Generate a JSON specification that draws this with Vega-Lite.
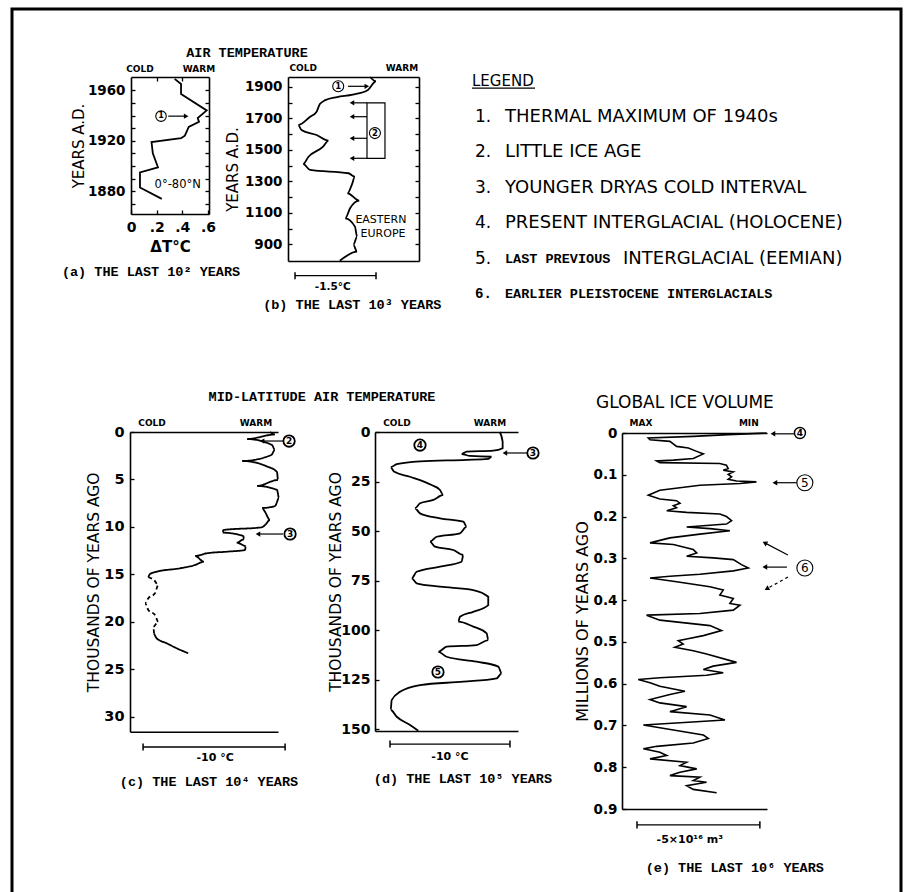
{
"$schema": "https://vega.github.io/schema/vega-lite/v6.json",
"width": 913, "height": 892,
"autosize": {"type": "none"},
"padding": 0,
"background": "white",
"config": {
 "view": {"stroke": null},
 "axis": {"grid": false, "domainColor": "black", "domainWidth": 1.6, "tickColor": "black", "tickWidth": 1.3, "labelColor": "black", "labelFont": "DejaVu Sans", "labelFontSize": 13.5, "labelFontWeight": "bold", "titleFont": "DejaVu Sans", "titleFontSize": 15, "titleFontWeight": "normal", "titleColor": "black", "labelOverlap": false, "labelBound": false, "labelFlush": false},
 "text": {"color": "black"}
},
"datasets": {
 "aLine": [{"y":1969,"x":0.34},{"y":1965,"x":0.39},{"y":1957,"x":0.39},{"y":1944,"x":0.59},{"y":1938,"x":0.52},{"y":1935,"x":0.53},{"y":1931,"x":0.45},{"y":1924,"x":0.42},{"y":1922,"x":0.39},{"y":1919,"x":0.16},{"y":1910,"x":0.17},{"y":1899,"x":0.21},{"y":1895,"x":0.07},{"y":1883,"x":0.07},{"y":1874,"x":0.24}],
 "bLine": [{"y":1962,"x":1.52},{"y":1935,"x":1.63},{"y":1880,"x":1.48},{"y":1850,"x":1.2},{"y":1835,"x":0.91},{"y":1815,"x":0.69},{"y":1790,"x":0.59},{"y":1742,"x":0.53},{"y":1710,"x":0.41},{"y":1657,"x":0.19},{"y":1626,"x":0.25},{"y":1594,"x":0.53},{"y":1558,"x":0.75},{"y":1520,"x":0.65},{"y":1456,"x":0.38},{"y":1410,"x":0.28},{"y":1372,"x":0.41},{"y":1351,"x":1.12},{"y":1329,"x":1.24},{"y":1276,"x":1.18},{"y":1224,"x":1.1},{"y":1177,"x":1.32},{"y":1129,"x":1.15},{"y":1065,"x":1.06},{"y":1012,"x":1.24},{"y":948,"x":1.28},{"y":896,"x":1.21},{"y":853,"x":1.28},{"y":796,"x":0.96}],
 "cLine": [
  {"piece":1,"kind":"solid","y":0,"x":9.86},{"piece":1,"kind":"solid","y":0.26,"x":10.21},{"piece":1,"kind":"solid","y":0.74,"x":8.24},{"piece":1,"kind":"solid","y":1.37,"x":10.0},{"piece":1,"kind":"solid","y":1.9,"x":10.2},{"piece":1,"kind":"solid","y":2.42,"x":9.95},{"piece":1,"kind":"solid","y":3.05,"x":7.89},{"piece":1,"kind":"solid","y":3.6,"x":9.6},{"piece":1,"kind":"solid","y":4.21,"x":10.35},{"piece":1,"kind":"solid","y":5.05,"x":10.42},{"piece":1,"kind":"solid","y":5.68,"x":8.94},{"piece":1,"kind":"solid","y":6.1,"x":10.35},{"piece":1,"kind":"solid","y":6.95,"x":10.49},{"piece":1,"kind":"solid","y":7.79,"x":10.21},{"piece":1,"kind":"solid","y":8.0,"x":9.3},{"piece":1,"kind":"solid","y":8.42,"x":9.51},{"piece":1,"kind":"solid","y":9.26,"x":9.86},{"piece":1,"kind":"solid","y":9.79,"x":9.51},{"piece":1,"kind":"solid","y":10.03,"x":9.27},{"piece":1,"kind":"solid","y":10.32,"x":6.57},{"piece":1,"kind":"solid","y":10.6,"x":6.53},{"piece":1,"kind":"solid","y":10.95,"x":7.98},{"piece":1,"kind":"solid","y":11.29,"x":8.03},{"piece":1,"kind":"solid","y":11.65,"x":7.51},{"piece":1,"kind":"solid","y":12.0,"x":8.15},{"piece":1,"kind":"solid","y":12.42,"x":8.1},{"piece":1,"kind":"solid","y":12.6,"x":6.81},{"piece":1,"kind":"solid","y":12.77,"x":5.4},{"piece":1,"kind":"solid","y":13.05,"x":4.58},{"piece":1,"kind":"solid","y":13.65,"x":5.21},{"piece":1,"kind":"solid","y":14.0,"x":4.58},{"piece":1,"kind":"solid","y":14.35,"x":3.52},{"piece":1,"kind":"solid","y":14.71,"x":1.88},{"piece":1,"kind":"solid","y":14.95,"x":1.41},{"piece":1,"kind":"solid","y":15.29,"x":1.29},
  {"piece":2,"kind":"dashed","y":15.29,"x":1.29},{"piece":2,"kind":"dashed","y":15.58,"x":1.69},{"piece":2,"kind":"dashed","y":16.1,"x":1.99},{"piece":2,"kind":"dashed","y":16.98,"x":1.76},{"piece":2,"kind":"dashed","y":17.5,"x":1.29},{"piece":2,"kind":"dashed","y":18.03,"x":1.06},{"piece":2,"kind":"dashed","y":18.74,"x":1.29},{"piece":2,"kind":"dashed","y":19.26,"x":1.76},{"piece":2,"kind":"dashed","y":19.97,"x":1.99},{"piece":2,"kind":"dashed","y":20.49,"x":1.64},{"piece":2,"kind":"dashed","y":21.19,"x":1.69},
  {"piece":3,"kind":"solid","y":21.19,"x":1.69},{"piece":3,"kind":"solid","y":21.72,"x":1.88},{"piece":3,"kind":"solid","y":22.24,"x":2.58},{"piece":3,"kind":"solid","y":22.77,"x":3.29},{"piece":3,"kind":"solid","y":23.29,"x":4.1}],
 "dLine": [{"y":0,"x":10.4},{"y":4.9,"x":10.64},{"y":8.2,"x":10.64},{"y":9.4,"x":9.86},{"y":9.9,"x":7.64},{"y":11.1,"x":7.22},{"y":12.1,"x":7.92},{"y":12.5,"x":9.72},{"y":13.6,"x":9.44},{"y":14.1,"x":7.64},{"y":14.8,"x":3.75},{"y":16.2,"x":1.81},{"y":17.8,"x":1.31},{"y":20.0,"x":1.58},{"y":22.6,"x":2.92},{"y":26.8,"x":4.72},{"y":29.3,"x":5.42},{"y":31.8,"x":5.69},{"y":34.3,"x":4.86},{"y":36.0,"x":3.75},{"y":38.5,"x":3.33},{"y":41.1,"x":3.75},{"y":43.6,"x":5.42},{"y":45.3,"x":7.36},{"y":47.8,"x":7.64},{"y":51.2,"x":7.08},{"y":52.9,"x":5.14},{"y":55.4,"x":4.58},{"y":57.9,"x":5.0},{"y":59.6,"x":6.53},{"y":62.1,"x":7.36},{"y":65.5,"x":7.22},{"y":68.0,"x":5.42},{"y":70.6,"x":3.47},{"y":73.9,"x":3.06},{"y":76.4,"x":3.47},{"y":78.1,"x":5.42},{"y":79.8,"x":8.19},{"y":83.2,"x":9.44},{"y":87.4,"x":9.44},{"y":90.8,"x":8.19},{"y":93.3,"x":7.08},{"y":95.8,"x":6.94},{"y":98.3,"x":8.19},{"y":101.7,"x":9.31},{"y":105.1,"x":9.44},{"y":107.6,"x":8.47},{"y":108.4,"x":5.97},{"y":111.0,"x":5.28},{"y":113.5,"x":5.97},{"y":116.0,"x":8.47},{"y":118.5,"x":10.28},{"y":121.9,"x":10.56},{"y":124.4,"x":10.14},{"y":126.1,"x":7.36},{"y":127.8,"x":3.75},{"y":131.2,"x":2.08},{"y":135.4,"x":1.39},{"y":140.4,"x":1.31},{"y":143.8,"x":1.81},{"y":148.0,"x":2.92},{"y":150.9,"x":3.61}],
 "eLine": [{"y":0,"x":5.88},{"y":0.002,"x":5.07},{"y":0.004,"x":4.32},{"y":0.008,"x":2.9},{"y":0.012,"x":1.07},{"y":0.016,"x":1.14},{"y":0.02,"x":1.95},{"y":0.032,"x":2.22},{"y":0.036,"x":2.7},{"y":0.044,"x":3.04},{"y":0.05,"x":3.31},{"y":0.061,"x":2.9},{"y":0.065,"x":2.09},{"y":0.067,"x":1.41},{"y":0.071,"x":1.54},{"y":0.073,"x":3.98},{"y":0.077,"x":4.25},{"y":0.085,"x":4.32},{"y":0.089,"x":4.12},{"y":0.093,"x":4.53},{"y":0.099,"x":4.32},{"y":0.105,"x":4.46},{"y":0.111,"x":4.32},{"y":0.115,"x":4.66},{"y":0.117,"x":5.47},{"y":0.121,"x":4.8},{"y":0.125,"x":3.17},{"y":0.137,"x":1.54},{"y":0.149,"x":1.07},{"y":0.158,"x":1.54},{"y":0.162,"x":2.22},{"y":0.168,"x":2.36},{"y":0.174,"x":2.09},{"y":0.179,"x":2.22},{"y":0.186,"x":1.82},{"y":0.19,"x":2.63},{"y":0.194,"x":3.98},{"y":0.2,"x":4.25},{"y":0.21,"x":4.46},{"y":0.218,"x":4.25},{"y":0.225,"x":2.63},{"y":0.229,"x":3.58},{"y":0.234,"x":4.39},{"y":0.242,"x":3.17},{"y":0.251,"x":1.95},{"y":0.257,"x":1.54},{"y":0.263,"x":1.14},{"y":0.267,"x":2.09},{"y":0.279,"x":2.9},{"y":0.287,"x":3.04},{"y":0.295,"x":2.63},{"y":0.299,"x":3.71},{"y":0.303,"x":4.53},{"y":0.315,"x":4.86},{"y":0.323,"x":5.14},{"y":0.33,"x":4.53},{"y":0.338,"x":3.17},{"y":0.343,"x":1.95},{"y":0.347,"x":1.14},{"y":0.356,"x":2.22},{"y":0.368,"x":3.58},{"y":0.376,"x":4.12},{"y":0.388,"x":3.98},{"y":0.396,"x":4.53},{"y":0.408,"x":4.39},{"y":0.412,"x":4.8},{"y":0.424,"x":4.53},{"y":0.432,"x":3.17},{"y":0.436,"x":1.0},{"y":0.448,"x":1.54},{"y":0.461,"x":3.58},{"y":0.473,"x":4.05},{"y":0.485,"x":3.31},{"y":0.493,"x":2.63},{"y":0.497,"x":2.29},{"y":0.505,"x":2.49},{"y":0.513,"x":2.15},{"y":0.521,"x":2.9},{"y":0.529,"x":3.44},{"y":0.549,"x":4.66},{"y":0.558,"x":3.71},{"y":0.566,"x":3.31},{"y":0.574,"x":4.12},{"y":0.58,"x":3.44},{"y":0.586,"x":1.54},{"y":0.59,"x":0.66},{"y":0.598,"x":1.14},{"y":0.606,"x":1.54},{"y":0.618,"x":2.56},{"y":0.626,"x":1.95},{"y":0.638,"x":1.14},{"y":0.646,"x":1.54},{"y":0.655,"x":2.63},{"y":0.667,"x":1.95},{"y":0.675,"x":3.58},{"y":0.687,"x":4.19},{"y":0.699,"x":0.87},{"y":0.711,"x":2.09},{"y":0.723,"x":3.31},{"y":0.731,"x":3.51},{"y":0.742,"x":2.9},{"y":0.75,"x":1.41},{"y":0.756,"x":0.87},{"y":0.764,"x":1.54},{"y":0.772,"x":1.82},{"y":0.78,"x":1.14},{"y":0.788,"x":2.63},{"y":0.796,"x":2.36},{"y":0.804,"x":3.04},{"y":0.812,"x":2.36},{"y":0.82,"x":1.95},{"y":0.824,"x":3.17},{"y":0.832,"x":2.9},{"y":0.836,"x":3.44},{"y":0.844,"x":2.63},{"y":0.853,"x":2.9},{"y":0.861,"x":3.85}],
 "aArr": [{"x":0.29,"x2":0.43,"y":1939.5}],
 "aCirc": [{"x":0.234,"y":1939.5,"t":"1"}],
 "aCW": [{"x":0.07,"y":1976.6,"t":"COLD"},{"x":0.53,"y":1976.6,"t":"WARM"}],
 "aMono": [{"x":0.904,"y":1989.3,"t":"AIR TEMPERATURE"},{"x":0.156,"y":1815.8,"t":"(a) THE LAST 10² YEARS"}],
 "aNote": [{"x":0.364,"y":1884.8,"t":"0°-80°N"}],
 "bArrR": [{"x":1.11,"x2":1.46,"y":1903}],
 "bArrL": [{"x":1.463,"x2":1.185,"y":1798},{"x":1.463,"x2":1.185,"y":1710},{"x":1.463,"x2":1.185,"y":1573},{"x":1.463,"x2":1.185,"y":1446}],
 "bBox": [{"x":1.463,"x2":1.796,"y":1798,"y2":1446}],
 "bCirc": [{"x":0.93,"y":1903,"t":"1"},{"x":1.61,"y":1606,"t":"2"}],
 "bCW": [{"x":0.28,"y":2019,"t":"COLD"},{"x":2.11,"y":2019,"t":"WARM"}],
 "bMono": [{"x":1.19,"y":514.7,"t":"(b) THE LAST 10³ YEARS"}],
 "bNote": [{"x":1.72,"y":1054,"t":"EASTERN"},{"x":1.76,"y":965,"t":"EUROPE"}],
 "bBar": [{"x":0.13,"x2":1.63,"y":700.7,"t":"-1.5°C","ty":629,"tx":0.83}],
 "cArr": [{"x":10.77,"x2":9.3,"y":0.95},{"x":10.77,"x2":9.01,"y":10.74}],
 "cCirc": [{"x":11.2,"y":0.95,"t":"2"},{"x":11.27,"y":10.74,"t":"3"}],
 "cCW": [{"x":1.55,"y":-0.95,"t":"COLD"},{"x":8.87,"y":-0.95,"t":"WARM"}],
 "cMono": [{"x":13.52,"y":-3.68,"t":"MID-LATITUDE AIR TEMPERATURE"},{"x":5.56,"y":36.84,"t":"(c) THE LAST 10⁴ YEARS"}],
 "cBar": [{"x":0.92,"x2":10.92,"y":33.16,"t":"-10 °C","ty":34.3,"tx":5.99}],
 "dArr": [{"x":12.75,"x2":10.83,"y":10.6}],
 "dCirc": [{"x":3.75,"y":6.6,"t":"4"},{"x":5.25,"y":121.2,"t":"5"},{"x":13.17,"y":10.6,"t":"3"}],
 "dCW": [{"x":1.83,"y":-4.5,"t":"COLD"},{"x":9.58,"y":-4.5,"t":"WARM"}],
 "dMono": [{"x":7.33,"y":175.3,"t":"(d) THE LAST 10⁵ YEARS"}],
 "dBar": [{"x":1.25,"x2":11.25,"y":157.6,"t":"-10 °C","ty":164.1,"tx":6.25}],
 "eArrL": [{"x":7.03,"x2":6.14,"y":0.002,"y2":0.002},{"x":7.11,"x2":6.22,"y":0.119,"y2":0.119},{"x":6.71,"x2":5.81,"y":0.321,"y2":0.321}],
 "eArrUp": [{"x":6.75,"x2":5.81,"y":0.292,"y2":0.263}],
 "eArrDn": [{"x":6.75,"x2":5.89,"y":0.345,"y2":0.373}],
 "eCircS": [{"x":7.24,"y":0.0,"t":"4"}],
 "eCircL": [{"x":7.44,"y":0.119,"t":"5"},{"x":7.44,"y":0.323,"t":"6"}],
 "eCW": [{"x":0.77,"y":-0.024,"t":"MAX"},{"x":5.16,"y":-0.024,"t":"MIN"}],
 "eTitle": [{"x":2.56,"y":-0.072,"t":"GLOBAL ICE VOLUME"}],
 "eMono": [{"x":4.59,"y":1.041,"t":"(e) THE LAST 10⁶ YEARS"}],
 "eBar": [{"x":0.61,"x2":5.61,"y":0.938,"t":"-5×10¹⁶ m³","ty":0.974,"tx":2.76}],
 "legend": [{"item":1,"num":"1.","text":"THERMAL MAXIMUM OF 1940s"},{"item":2,"num":"2.","text":"LITTLE ICE AGE"},{"item":3,"num":"3.","text":"YOUNGER DRYAS COLD INTERVAL"},{"item":4,"num":"4.","text":"PRESENT INTERGLACIAL (HOLOCENE)"},{"item":5,"num":"5.","text":"LAST PREVIOUS","text2":"INTERGLACIAL (EEMIAN)"},{"item":6,"num":"6.","text":"EARLIER PLEISTOCENE INTERGLACIALS"}]
},
"resolve": {"scale": {"x": "independent", "y": "independent", "strokeDash": "independent"}, "axis": {"x": "independent", "y": "independent"}},
"layer": [
 {"data": {"values": [{"x":0,"x2":1,"y":0,"y2":1}]},
  "mark": {"type": "rect", "fill": "transparent", "stroke": "black", "strokeWidth": 3},
  "encoding": {
   "x": {"field": "x", "type": "quantitative", "scale": {"domain": [0,1], "range": [12,901], "nice": false, "zero": false}, "axis": null},
   "x2": {"field": "x2"},
   "y": {"field": "y", "type": "quantitative", "scale": {"domain": [0,1], "range": [9,1000], "nice": false, "zero": false}, "axis": null},
   "y2": {"field": "y2"}}},

 {"data": {"name": "legend"},
  "encoding": {"y": {"field": "item", "type": "quantitative", "scale": {"domain": [0,6], "range": [81,294], "nice": false, "zero": false}, "axis": null}},
  "layer": [
   {"data": {"values": [{"item":0,"text":"LEGEND"}]}, "mark": {"type": "text", "font": "DejaVu Sans", "fontSize": 15, "align": "left", "baseline": "middle"},
    "encoding": {"x": {"datum": 2.73, "type": "quantitative", "scale": {"domain": [0,100], "range": [460,900], "nice": false, "zero": false}, "axis": null}, "text": {"field": "text"}}},
   {"data": {"values": [{"item":0.2}]}, "mark": {"type": "rule", "color": "black", "strokeWidth": 1.2},
    "encoding": {"x": {"datum": 2.73, "type": "quantitative", "scale": {"domain": [0,100], "range": [460,900], "nice": false, "zero": false}, "axis": null}, "x2": {"datum": 17.05}}},
   {"transform": [{"filter": "datum.item <= 5"}], "mark": {"type": "text", "font": "DejaVu Sans", "fontSize": 17, "align": "left", "baseline": "middle"},
    "encoding": {"x": {"datum": 3.41, "type": "quantitative", "scale": {"domain": [0,100], "range": [460,900], "nice": false, "zero": false}, "axis": null}, "text": {"field": "num"}}},
   {"transform": [{"filter": "datum.item == 6"}], "mark": {"type": "text", "font": "Liberation Mono", "fontSize": 14, "fontWeight": "bold", "align": "left", "baseline": "middle"},
    "encoding": {"x": {"datum": 3.41, "type": "quantitative", "scale": {"domain": [0,100], "range": [460,900], "nice": false, "zero": false}, "axis": null}, "text": {"field": "num"}}},
   {"transform": [{"filter": "datum.item <= 4"}], "mark": {"type": "text", "font": "DejaVu Sans", "fontSize": 18, "align": "left", "baseline": "middle"},
    "encoding": {"x": {"datum": 10.23, "type": "quantitative", "scale": {"domain": [0,100], "range": [460,900], "nice": false, "zero": false}, "axis": null}, "text": {"field": "text"}}},
   {"transform": [{"filter": "datum.item >= 5"}], "mark": {"type": "text", "font": "Liberation Mono", "fontSize": 13.5, "fontWeight": "bold", "align": "left", "baseline": "middle"},
    "encoding": {"x": {"datum": 10.23, "type": "quantitative", "scale": {"domain": [0,100], "range": [460,900], "nice": false, "zero": false}, "axis": null}, "text": {"field": "text"}}},
   {"transform": [{"filter": "datum.item == 5"}], "mark": {"type": "text", "font": "DejaVu Sans", "fontSize": 18, "align": "left", "baseline": "middle"},
    "encoding": {"x": {"datum": 37.05, "type": "quantitative", "scale": {"domain": [0,100], "range": [460,900], "nice": false, "zero": false}, "axis": null}, "text": {"field": "text2"}}}
  ]},

 {"encoding": {
   "x": {"field": "x", "type": "quantitative", "scale": {"domain": [0,0.608], "range": [131,209], "nice": false, "zero": false}, "axis": null},
   "y": {"field": "y", "type": "quantitative", "scale": {"domain": [1862,1970.5], "range": [214,77], "nice": false, "zero": false}, "axis": null}},
  "layer": [
   {"data": {"name": "aLine"}, "mark": {"type": "line", "color": "black", "strokeWidth": 1.8}, "encoding": {"order": {"field": "y", "type": "quantitative"}}},
   {"data": {"name": "aArr"}, "mark": {"type": "rule", "color": "black", "strokeWidth": 1.2}, "encoding": {"x2": {"field": "x2"}}},
   {"data": {"name": "aArr"}, "mark": {"type": "point", "shape": "triangle-right", "filled": true, "color": "black", "size": 28, "opacity": 1},
    "encoding": {"x": {"field": "x2", "type": "quantitative", "scale": {"domain": [0,0.608], "range": [131,209], "nice": false, "zero": false}, "axis": null}}},
   {"data": {"name": "aCirc"}, "mark": {"type": "point", "shape": "circle", "filled": false, "color": "black", "strokeWidth": 1.1, "size": 110, "opacity": 1}},
   {"data": {"name": "aCirc"}, "mark": {"type": "text", "font": "DejaVu Sans", "fontSize": 8, "fontWeight": "bold", "align": "center", "baseline": "middle"}, "encoding": {"text": {"field": "t"}}},
   {"data": {"name": "aCW"}, "mark": {"type": "text", "font": "DejaVu Sans", "fontSize": 9, "fontWeight": "bold", "align": "center", "baseline": "middle"}, "encoding": {"text": {"field": "t"}}},
   {"data": {"name": "aMono"}, "mark": {"type": "text", "font": "Liberation Mono", "fontSize": 13.5, "fontWeight": "bold", "align": "center", "baseline": "middle"}, "encoding": {"text": {"field": "t"}}},
   {"data": {"name": "aNote"}, "mark": {"type": "text", "font": "DejaVu Sans", "fontSize": 11.5, "align": "center", "baseline": "middle"}, "encoding": {"text": {"field": "t"}}}
  ]},
 {"data": {"values": [{"x":0.3,"y":1900}]}, "mark": {"type": "point", "opacity": 0},
  "encoding": {
   "x": {"field": "x", "type": "quantitative", "scale": {"domain": [0,0.608], "range": [131,209], "nice": false, "zero": false},
         "axis": {"orient": "bottom", "offset": -678, "values": [0,0.2,0.4,0.6], "labelExpr": "datum.value == 0 ? '0' : '.' + format(datum.value*10, 'd')", "tickSize": -4, "labelPadding": 10, "labelFontSize": 14, "title": "ΔT°C", "titleFontWeight": "bold", "titlePadding": 5}},
   "y": {"field": "y", "type": "quantitative", "scale": {"domain": [1862,1970.5], "range": [214,77], "nice": false, "zero": false},
         "axis": {"orient": "left", "offset": -131, "values": [1870,1880,1890,1900,1910,1920,1930,1940,1950,1960], "format": "d", "labelExpr": "datum.value % 40 == 0 ? datum.label : ''", "tickSize": -4, "labelPadding": 10, "title": "YEARS A.D.", "titlePadding": 1}}}},
 {"data": {"values": [{"x":0.3,"y":1900}]}, "mark": {"type": "point", "opacity": 0},
  "encoding": {
   "x": {"field": "x", "type": "quantitative", "scale": {"domain": [0,0.608], "range": [131,209], "nice": false, "zero": false},
         "axis": {"orient": "top", "offset": -77, "values": [0.2,0.4], "tickSize": -4, "labels": false, "title": null}},
   "y": {"field": "y", "type": "quantitative", "scale": {"domain": [1862,1970.5], "range": [214,77], "nice": false, "zero": false},
         "axis": {"orient": "right", "offset": -704, "values": [1870,1880,1890,1900,1910,1920,1930,1940,1950,1960], "tickSize": -4, "labels": false, "title": null}}}},

 {"encoding": {
   "x": {"field": "x", "type": "quantitative", "scale": {"domain": [0,2.426], "range": [288,419], "nice": false, "zero": false}, "axis": null},
   "y": {"field": "y", "type": "quantitative", "scale": {"domain": [794,1962], "range": [261,77], "nice": false, "zero": false}, "axis": null}},
  "layer": [
   {"data": {"name": "bLine"}, "mark": {"type": "line", "color": "black", "strokeWidth": 1.8, "interpolate": "monotone"}, "encoding": {"order": {"field": "y", "type": "quantitative"}}},
   {"data": {"name": "bBox"}, "mark": {"type": "rect", "fill": "transparent", "stroke": "black", "strokeWidth": 1.2}, "encoding": {"x2": {"field": "x2"}, "y2": {"field": "y2"}}},
   {"data": {"name": "bArrL"}, "mark": {"type": "rule", "color": "black", "strokeWidth": 1.2}, "encoding": {"x2": {"field": "x2"}}},
   {"data": {"name": "bArrL"}, "mark": {"type": "point", "shape": "triangle-left", "filled": true, "color": "black", "size": 28, "opacity": 1},
    "encoding": {"x": {"field": "x2", "type": "quantitative", "scale": {"domain": [0,2.426], "range": [288,419], "nice": false, "zero": false}, "axis": null}}},
   {"data": {"name": "bArrR"}, "mark": {"type": "rule", "color": "black", "strokeWidth": 1.2}, "encoding": {"x2": {"field": "x2"}}},
   {"data": {"name": "bArrR"}, "mark": {"type": "point", "shape": "triangle-right", "filled": true, "color": "black", "size": 28, "opacity": 1},
    "encoding": {"x": {"field": "x2", "type": "quantitative", "scale": {"domain": [0,2.426], "range": [288,419], "nice": false, "zero": false}, "axis": null}}},
   {"data": {"name": "bCirc"}, "mark": {"type": "point", "shape": "circle", "filled": false, "color": "black", "strokeWidth": 1.1, "size": 121, "opacity": 1}},
   {"data": {"name": "bCirc"}, "mark": {"type": "text", "font": "DejaVu Sans", "fontSize": 8.5, "fontWeight": "bold", "align": "center", "baseline": "middle"}, "encoding": {"text": {"field": "t"}}},
   {"data": {"name": "bCW"}, "mark": {"type": "text", "font": "DejaVu Sans", "fontSize": 9, "fontWeight": "bold", "align": "center", "baseline": "middle"}, "encoding": {"text": {"field": "t"}}},
   {"data": {"name": "bMono"}, "mark": {"type": "text", "font": "Liberation Mono", "fontSize": 13.5, "fontWeight": "bold", "align": "center", "baseline": "middle"}, "encoding": {"text": {"field": "t"}}},
   {"data": {"name": "bNote"}, "mark": {"type": "text", "font": "DejaVu Sans", "fontSize": 11, "align": "center", "baseline": "middle"}, "encoding": {"text": {"field": "t"}}},
   {"data": {"name": "bBar"}, "mark": {"type": "rule", "color": "black", "strokeWidth": 1.3}, "encoding": {"x2": {"field": "x2"}}},
   {"data": {"name": "bBar"}, "transform": [{"fold": ["x","x2"], "as": ["end","xv"]}], "mark": {"type": "point", "shape": "M0,-1L0,1", "filled": false, "color": "black", "strokeWidth": 1.5, "size": 50, "opacity": 1},
    "encoding": {"x": {"field": "xv", "type": "quantitative", "scale": {"domain": [0,2.426], "range": [288,419], "nice": false, "zero": false}, "axis": null}}},
   {"data": {"name": "bBar"}, "mark": {"type": "text", "font": "DejaVu Sans", "fontSize": 10.5, "fontWeight": "bold", "align": "center", "baseline": "middle"},
    "encoding": {"x": {"field": "tx", "type": "quantitative", "scale": {"domain": [0,2.426], "range": [288,419], "nice": false, "zero": false}, "axis": null},
                 "y": {"field": "ty", "type": "quantitative", "scale": {"domain": [794,1962], "range": [261,77], "nice": false, "zero": false}, "axis": null}, "text": {"field": "t"}}}
  ]},
 {"data": {"values": [{"x":1,"y":1500}]}, "mark": {"type": "point", "opacity": 0},
  "encoding": {
   "x": {"field": "x", "type": "quantitative", "scale": {"domain": [0,2.426], "range": [288,419], "nice": false, "zero": false},
         "axis": {"orient": "bottom", "offset": -631, "ticks": false, "labels": false, "title": null}},
   "y": {"field": "y", "type": "quantitative", "scale": {"domain": [794,1962], "range": [261,77], "nice": false, "zero": false},
         "axis": {"orient": "left", "offset": -288, "values": [900,1000,1100,1200,1300,1400,1500,1600,1700,1800,1900], "format": "d", "labelExpr": "(datum.value / 100) % 2 == 1 ? datum.label : ''", "tickSize": -4, "labelPadding": 10, "title": "YEARS A.D.", "titlePadding": 4}}}},
 {"data": {"values": [{"x":1,"y":1500}]}, "mark": {"type": "point", "opacity": 0},
  "encoding": {
   "x": {"field": "x", "type": "quantitative", "scale": {"domain": [0,2.426], "range": [288,419], "nice": false, "zero": false},
         "axis": {"orient": "top", "offset": -77, "ticks": false, "labels": false, "title": null}},
   "y": {"field": "y", "type": "quantitative", "scale": {"domain": [794,1962], "range": [261,77], "nice": false, "zero": false},
         "axis": {"orient": "right", "offset": -494, "values": [900,1000,1100,1200,1300,1400,1500,1600,1700,1800,1900], "tickSize": -4, "labels": false, "title": null}}}},

 {"encoding": {
   "x": {"field": "x", "type": "quantitative", "scale": {"domain": [0,10.42], "range": [130,278], "nice": false, "zero": false}, "axis": null},
   "y": {"field": "y", "type": "quantitative", "scale": {"domain": [0,31.55], "range": [432,731.7], "nice": false, "zero": false}, "axis": null}},
  "layer": [
   {"data": {"name": "cLine"}, "mark": {"type": "line", "color": "black", "strokeWidth": 1.8, "interpolate": "monotone"},
    "encoding": {"order": {"field": "y", "type": "quantitative"}, "detail": {"field": "piece", "type": "nominal"},
                 "strokeDash": {"field": "kind", "type": "nominal", "scale": {"domain": ["solid","dashed"], "range": [[1,0],[4,3]]}, "legend": null}}},
   {"data": {"name": "cArr"}, "mark": {"type": "rule", "color": "black", "strokeWidth": 1.2}, "encoding": {"x2": {"field": "x2"}}},
   {"data": {"name": "cArr"}, "mark": {"type": "point", "shape": "triangle-left", "filled": true, "color": "black", "size": 28, "opacity": 1},
    "encoding": {"x": {"field": "x2", "type": "quantitative", "scale": {"domain": [0,10.42], "range": [130,278], "nice": false, "zero": false}, "axis": null}}},
   {"data": {"name": "cCirc"}, "mark": {"type": "point", "shape": "circle", "filled": false, "color": "black", "strokeWidth": 1.8, "size": 130, "opacity": 1}},
   {"data": {"name": "cCirc"}, "mark": {"type": "text", "font": "DejaVu Sans", "fontSize": 9, "fontWeight": "bold", "align": "center", "baseline": "middle"}, "encoding": {"text": {"field": "t"}}},
   {"data": {"name": "cCW"}, "mark": {"type": "text", "font": "DejaVu Sans", "fontSize": 9, "fontWeight": "bold", "align": "center", "baseline": "middle"}, "encoding": {"text": {"field": "t"}}},
   {"data": {"name": "cMono"}, "mark": {"type": "text", "font": "Liberation Mono", "fontSize": 13.5, "fontWeight": "bold", "align": "center", "baseline": "middle"}, "encoding": {"text": {"field": "t"}}},
   {"data": {"name": "cBar"}, "mark": {"type": "rule", "color": "black", "strokeWidth": 1.3}, "encoding": {"x2": {"field": "x2"}}},
   {"data": {"name": "cBar"}, "transform": [{"fold": ["x","x2"], "as": ["end","xv"]}], "mark": {"type": "point", "shape": "M0,-1L0,1", "filled": false, "color": "black", "strokeWidth": 1.5, "size": 50, "opacity": 1},
    "encoding": {"x": {"field": "xv", "type": "quantitative", "scale": {"domain": [0,10.42], "range": [130,278], "nice": false, "zero": false}, "axis": null}}},
   {"data": {"name": "cBar"}, "mark": {"type": "text", "font": "DejaVu Sans", "fontSize": 11, "fontWeight": "bold", "align": "center", "baseline": "middle"},
    "encoding": {"x": {"field": "tx", "type": "quantitative", "scale": {"domain": [0,10.42], "range": [130,278], "nice": false, "zero": false}, "axis": null},
                 "y": {"field": "ty", "type": "quantitative", "scale": {"domain": [0,31.55], "range": [432,731.7], "nice": false, "zero": false}, "axis": null}, "text": {"field": "t"}}}
  ]},
 {"data": {"values": [{"x":1,"y":1}]}, "mark": {"type": "point", "opacity": 0},
  "encoding": {
   "x": {"field": "x", "type": "quantitative", "scale": {"domain": [0,10.42], "range": [130,278], "nice": false, "zero": false},
         "axis": {"orient": "bottom", "offset": -160.3, "ticks": false, "labels": false, "title": null}},
   "y": {"field": "y", "type": "quantitative", "scale": {"domain": [0,31.55], "range": [432,731.7], "nice": false, "zero": false},
         "axis": {"orient": "left", "offset": -130, "values": [0,5,10,15,20,25,30], "tickSize": -4, "labelPadding": 10, "labelFontSize": 14.5, "title": "THOUSANDS OF YEARS AGO", "titleFontSize": 15.5, "titlePadding": 2}}}},
 {"data": {"values": [{"x":1}]}, "mark": {"type": "point", "opacity": 0},
  "encoding": {
   "x": {"field": "x", "type": "quantitative", "scale": {"domain": [0,10.42], "range": [130,278], "nice": false, "zero": false},
         "axis": {"orient": "top", "offset": -432, "ticks": false, "labels": false, "title": null}}}},

 {"encoding": {
   "x": {"field": "x", "type": "quantitative", "scale": {"domain": [0,11.92], "range": [375,518], "nice": false, "zero": false}, "axis": null},
   "y": {"field": "y", "type": "quantitative", "scale": {"domain": [0,151], "range": [432,731], "nice": false, "zero": false}, "axis": null}},
  "layer": [
   {"data": {"name": "dLine"}, "mark": {"type": "line", "color": "black", "strokeWidth": 1.8, "interpolate": "monotone"}, "encoding": {"order": {"field": "y", "type": "quantitative"}}},
   {"data": {"name": "dArr"}, "mark": {"type": "rule", "color": "black", "strokeWidth": 1.2}, "encoding": {"x2": {"field": "x2"}}},
   {"data": {"name": "dArr"}, "mark": {"type": "point", "shape": "triangle-left", "filled": true, "color": "black", "size": 28, "opacity": 1},
    "encoding": {"x": {"field": "x2", "type": "quantitative", "scale": {"domain": [0,11.92], "range": [375,518], "nice": false, "zero": false}, "axis": null}}},
   {"data": {"name": "dCirc"}, "mark": {"type": "point", "shape": "circle", "filled": false, "color": "black", "strokeWidth": 1.8, "size": 130, "opacity": 1}},
   {"data": {"name": "dCirc"}, "mark": {"type": "text", "font": "DejaVu Sans", "fontSize": 9, "fontWeight": "bold", "align": "center", "baseline": "middle"}, "encoding": {"text": {"field": "t"}}},
   {"data": {"name": "dCW"}, "mark": {"type": "text", "font": "DejaVu Sans", "fontSize": 9, "fontWeight": "bold", "align": "center", "baseline": "middle"}, "encoding": {"text": {"field": "t"}}},
   {"data": {"name": "dMono"}, "mark": {"type": "text", "font": "Liberation Mono", "fontSize": 13.5, "fontWeight": "bold", "align": "center", "baseline": "middle"}, "encoding": {"text": {"field": "t"}}},
   {"data": {"name": "dBar"}, "mark": {"type": "rule", "color": "black", "strokeWidth": 1.3}, "encoding": {"x2": {"field": "x2"}}},
   {"data": {"name": "dBar"}, "transform": [{"fold": ["x","x2"], "as": ["end","xv"]}], "mark": {"type": "point", "shape": "M0,-1L0,1", "filled": false, "color": "black", "strokeWidth": 1.5, "size": 50, "opacity": 1},
    "encoding": {"x": {"field": "xv", "type": "quantitative", "scale": {"domain": [0,11.92], "range": [375,518], "nice": false, "zero": false}, "axis": null}}},
   {"data": {"name": "dBar"}, "mark": {"type": "text", "font": "DejaVu Sans", "fontSize": 11, "fontWeight": "bold", "align": "center", "baseline": "middle"},
    "encoding": {"x": {"field": "tx", "type": "quantitative", "scale": {"domain": [0,11.92], "range": [375,518], "nice": false, "zero": false}, "axis": null},
                 "y": {"field": "ty", "type": "quantitative", "scale": {"domain": [0,151], "range": [432,731], "nice": false, "zero": false}, "axis": null}, "text": {"field": "t"}}}
  ]},
 {"data": {"values": [{"x":1,"y":1}]}, "mark": {"type": "point", "opacity": 0},
  "encoding": {
   "x": {"field": "x", "type": "quantitative", "scale": {"domain": [0,11.92], "range": [375,518], "nice": false, "zero": false},
         "axis": {"orient": "bottom", "offset": -161, "ticks": false, "labels": false, "title": null}},
   "y": {"field": "y", "type": "quantitative", "scale": {"domain": [0,151], "range": [432,731], "nice": false, "zero": false},
         "axis": {"orient": "left", "offset": -375, "values": [0,25,50,75,100,125,150], "tickSize": -4, "labelPadding": 9, "labelFontSize": 14, "title": "THOUSANDS OF YEARS AGO", "titleFontSize": 15.5, "titleX": -31.5}}}},
 {"data": {"values": [{"x":1}]}, "mark": {"type": "point", "opacity": 0},
  "encoding": {
   "x": {"field": "x", "type": "quantitative", "scale": {"domain": [0,11.92], "range": [375,518], "nice": false, "zero": false},
         "axis": {"orient": "top", "offset": -432, "ticks": false, "labels": false, "title": null}}}},

 {"encoding": {
   "x": {"field": "x", "type": "quantitative", "scale": {"domain": [0,5.9], "range": [622,767], "nice": false, "zero": false}, "axis": null},
   "y": {"field": "y", "type": "quantitative", "scale": {"domain": [0,0.9], "range": [433,809], "nice": false, "zero": false}, "axis": null}},
  "layer": [
   {"data": {"name": "eLine"}, "mark": {"type": "line", "color": "black", "strokeWidth": 1.6}, "encoding": {"order": {"field": "y", "type": "quantitative"}}},
   {"data": {"name": "eArrL"}, "mark": {"type": "rule", "color": "black", "strokeWidth": 1.2}, "encoding": {"x2": {"field": "x2"}, "y2": {"field": "y2"}}},
   {"data": {"name": "eArrL"}, "mark": {"type": "point", "shape": "triangle-left", "filled": true, "color": "black", "size": 30, "opacity": 1},
    "encoding": {"x": {"field": "x2", "type": "quantitative", "scale": {"domain": [0,5.9], "range": [622,767], "nice": false, "zero": false}, "axis": null}}},
   {"data": {"name": "eArrUp"}, "mark": {"type": "rule", "color": "black", "strokeWidth": 1.2}, "encoding": {"x2": {"field": "x2"}, "y2": {"field": "y2"}}},
   {"data": {"name": "eArrUp"}, "mark": {"type": "point", "shape": "triangle-up", "angle": 297.5, "filled": true, "color": "black", "size": 30, "opacity": 1},
    "encoding": {"x": {"field": "x2", "type": "quantitative", "scale": {"domain": [0,5.9], "range": [622,767], "nice": false, "zero": false}, "axis": null},
                 "y": {"field": "y2", "type": "quantitative", "scale": {"domain": [0,0.9], "range": [433,809], "nice": false, "zero": false}, "axis": null}}},
   {"data": {"name": "eArrDn"}, "mark": {"type": "rule", "color": "black", "strokeWidth": 1.2, "strokeDash": [3,3]}, "encoding": {"x2": {"field": "x2"}, "y2": {"field": "y2"}}},
   {"data": {"name": "eArrDn"}, "mark": {"type": "point", "shape": "triangle-up", "angle": 240.3, "filled": true, "color": "black", "size": 30, "opacity": 1},
    "encoding": {"x": {"field": "x2", "type": "quantitative", "scale": {"domain": [0,5.9], "range": [622,767], "nice": false, "zero": false}, "axis": null},
                 "y": {"field": "y2", "type": "quantitative", "scale": {"domain": [0,0.9], "range": [433,809], "nice": false, "zero": false}, "axis": null}}},
   {"data": {"name": "eCircS"}, "mark": {"type": "point", "shape": "circle", "filled": false, "color": "black", "strokeWidth": 1.4, "size": 121, "opacity": 1}},
   {"data": {"name": "eCircS"}, "mark": {"type": "text", "font": "DejaVu Sans", "fontSize": 9, "fontWeight": "bold", "align": "center", "baseline": "middle"}, "encoding": {"text": {"field": "t"}}},
   {"data": {"name": "eCircL"}, "mark": {"type": "point", "shape": "circle", "filled": false, "color": "black", "strokeWidth": 1.1, "size": 256, "opacity": 1}},
   {"data": {"name": "eCircL"}, "mark": {"type": "text", "font": "DejaVu Sans", "fontSize": 12, "align": "center", "baseline": "middle"}, "encoding": {"text": {"field": "t"}}},
   {"data": {"name": "eCW"}, "mark": {"type": "text", "font": "DejaVu Sans", "fontSize": 9, "fontWeight": "bold", "align": "center", "baseline": "middle"}, "encoding": {"text": {"field": "t"}}},
   {"data": {"name": "eTitle"}, "mark": {"type": "text", "font": "DejaVu Sans", "fontSize": 17, "align": "center", "baseline": "middle"}, "encoding": {"text": {"field": "t"}}},
   {"data": {"name": "eMono"}, "mark": {"type": "text", "font": "Liberation Mono", "fontSize": 13.5, "fontWeight": "bold", "align": "center", "baseline": "middle"}, "encoding": {"text": {"field": "t"}}},
   {"data": {"name": "eBar"}, "mark": {"type": "rule", "color": "black", "strokeWidth": 1.3}, "encoding": {"x2": {"field": "x2"}}},
   {"data": {"name": "eBar"}, "transform": [{"fold": ["x","x2"], "as": ["end","xv"]}], "mark": {"type": "point", "shape": "M0,-1L0,1", "filled": false, "color": "black", "strokeWidth": 1.5, "size": 50, "opacity": 1},
    "encoding": {"x": {"field": "xv", "type": "quantitative", "scale": {"domain": [0,5.9], "range": [622,767], "nice": false, "zero": false}, "axis": null}}},
   {"data": {"name": "eBar"}, "mark": {"type": "text", "font": "DejaVu Sans", "fontSize": 11, "fontWeight": "bold", "align": "center", "baseline": "middle"},
    "encoding": {"x": {"field": "tx", "type": "quantitative", "scale": {"domain": [0,5.9], "range": [622,767], "nice": false, "zero": false}, "axis": null},
                 "y": {"field": "ty", "type": "quantitative", "scale": {"domain": [0,0.9], "range": [433,809], "nice": false, "zero": false}, "axis": null}, "text": {"field": "t"}}}
  ]},
 {"data": {"values": [{"x":1,"y":0.5}]}, "mark": {"type": "point", "opacity": 0},
  "encoding": {
   "x": {"field": "x", "type": "quantitative", "scale": {"domain": [0,5.9], "range": [622,767], "nice": false, "zero": false},
         "axis": {"orient": "bottom", "offset": -83, "ticks": false, "labels": false, "title": null}},
   "y": {"field": "y", "type": "quantitative", "scale": {"domain": [0,0.9], "range": [433,809], "nice": false, "zero": false},
         "axis": {"orient": "left", "offset": -622, "values": [0,0.1,0.2,0.3,0.4,0.5,0.6,0.7,0.8,0.9], "labelExpr": "datum.value == 0 ? '0' : format(datum.value, '.1f')", "tickSize": -4, "labelPadding": 9, "title": "MILLIONS OF YEARS AGO", "titleFontSize": 16, "titlePadding": 3}}}},
 {"data": {"values": [{"x":1}]}, "mark": {"type": "point", "opacity": 0},
  "encoding": {
   "x": {"field": "x", "type": "quantitative", "scale": {"domain": [0,5.9], "range": [622,767], "nice": false, "zero": false},
         "axis": {"orient": "top", "offset": -433, "ticks": false, "labels": false, "title": null}}}}
]
}
